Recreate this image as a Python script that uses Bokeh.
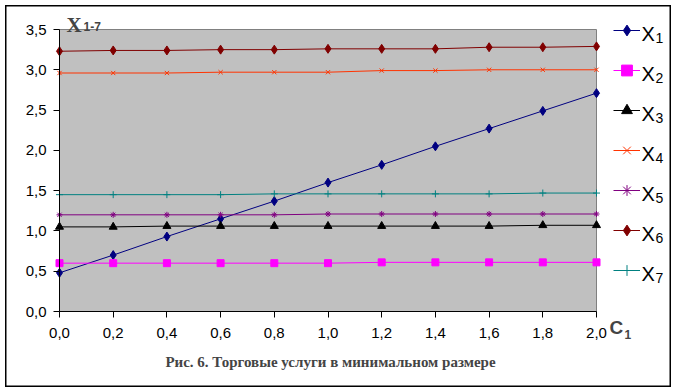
from bokeh.plotting import figure
from bokeh.models import (Range1d, FixedTicker, CustomJSTickFormatter, Legend,
                          LegendItem, Label)
from bokeh.embed import file_html
from bokeh.resources import INLINE

# ---- data ----
c1 = [0.0, 0.2, 0.4, 0.6, 0.8, 1.0, 1.2, 1.4, 1.6, 1.8, 2.0]
x1 = [0.48, 0.70, 0.93, 1.15, 1.37, 1.60, 1.82, 2.05, 2.27, 2.49, 2.71]
x2 = [0.60, 0.60, 0.60, 0.60, 0.60, 0.60, 0.61, 0.61, 0.61, 0.61, 0.61]
x3 = [1.05, 1.05, 1.06, 1.06, 1.06, 1.06, 1.06, 1.06, 1.06, 1.07, 1.07]
x4 = [2.96, 2.96, 2.96, 2.97, 2.97, 2.97, 2.99, 2.99, 3.00, 3.00, 3.00]
x5 = [1.20, 1.20, 1.20, 1.20, 1.20, 1.21, 1.21, 1.21, 1.21, 1.21, 1.21]
x6 = [3.23, 3.24, 3.24, 3.25, 3.25, 3.26, 3.26, 3.26, 3.28, 3.28, 3.29]
x7 = [1.45, 1.45, 1.45, 1.45, 1.46, 1.46, 1.46, 1.46, 1.46, 1.47, 1.47]

series_names = ["X", "X", "X", "X", "X", "X", "X"]
series_subs = ["1", "2", "3", "4", "5", "6", "7"]
y_ticks = [0.0, 0.5, 1.0, 1.5, 2.0, 2.5, 3.0, 3.5]
x_ticks = [0.0, 0.2, 0.4, 0.6, 0.8, 1.0, 1.2, 1.4, 1.6, 1.8, 2.0]
y_title, y_title_sub = "X", "1-7"
x_title, x_title_sub = "C", "1"
caption = "Рис. 6. Торговые услуги в минимальном размере"

series = [x1, x2, x3, x4, x5, x6, x7]
colors = ["#000080", "#FF00FF", "#000000", "#FF3300", "#800080", "#800000", "#008080"]
markers = ["diamond", "square", "triangle", "x", "asterisk", "diamond", "cross"]
sizes = [9, 7, 8, 6, 6, 9, 7]

# ---- layout (page pixels) ----
OFF = 5                                    # chart box starts at page (5, 5)
W, H = 666, 382                            # chart box size
PL, PR, PT, PB = 59, 596, 29, 311          # gray plot area (page pixels)
XMIN, XMAX, YMIN, YMAX = 0.0, 2.0, 0.0, 3.5
xpp = (XMAX - XMIN) / (PR - PL)
ypp = (YMAX - YMIN) / (PB - PT)
x_start, x_end = XMIN - (PL - OFF) * xpp, XMAX + (OFF + W - PR) * xpp
y_start, y_end = YMIN - (OFF + H - PB) * ypp, YMAX + (PT - OFF) * ypp


def dx(px):
    return x_start + (px - OFF) * xpp


def dy(py):
    return y_end - (py - OFF) * ypp


p = figure(width=W, height=H, output_backend="svg", toolbar_location=None,
           x_range=Range1d(x_start, x_end), y_range=Range1d(y_start, y_end),
           min_border=0, min_border_left=0, min_border_right=0,
           min_border_top=0, min_border_bottom=0)
p.styles = {"margin-left": f"{OFF}px", "margin-top": f"{OFF}px"}
p.outline_line_color = "black"
p.outline_line_width = 2
p.grid.visible = False

# gray plot area
p.quad(left=[XMIN], right=[XMAX], bottom=[YMIN], top=[YMAX],
       fill_color="#C0C0C0", line_color="#808080", line_width=1)

for ax, ticks, loc, bnds, stand in ((p.xaxis[0], x_ticks, YMIN, (XMIN, XMAX), 10),
                                    (p.yaxis[0], y_ticks, XMIN, (YMIN, YMAX), 7)):
    ax.fixed_location = loc
    ax.bounds = bnds
    ax.ticker = FixedTicker(ticks=ticks)
    ax.formatter = CustomJSTickFormatter(code="return tick.toFixed(1).replace('.', ',');")
    ax.major_tick_out = 6
    ax.major_tick_in = 0
    ax.minor_tick_out = 0
    ax.minor_tick_in = 0
    ax.axis_line_color = "black"
    ax.major_tick_line_color = "black"
    ax.major_label_text_font = "Liberation Sans"
    ax.major_label_text_font_size = "15px"
    ax.major_label_text_color = "black"
    ax.major_label_standoff = stand

items = []
for ys, col, mk, sz in zip(series, colors, markers, sizes):
    lr = p.line(c1, ys, line_color=col, line_width=1)
    sr = p.scatter(c1, ys, marker=mk, size=sz, fill_color=col, line_color=col, line_width=1)
    items.append(LegendItem(label=" ", renderers=[lr, sr]))

ROW0, ROWH = 30, 40
legend_bottom_page = ROW0 - ROWH // 2 + ROWH * len(items)
legend = Legend(items=items, location=(613 - OFF, OFF + H - legend_bottom_page),
                glyph_width=27, glyph_height=ROWH, label_height=20, spacing=0,
                padding=0, margin=0, label_standoff=2,
                border_line_color=None, background_fill_alpha=0,
                label_text_font="Liberation Sans", label_text_font_size="20px")
p.add_layout(legend, "center")

# legend texts: X with subscript
for k, (nm, sub) in enumerate(zip(series_names, series_subs)):
    base = ROW0 + ROWH * k
    p.add_layout(Label(x=dx(641), y=dy(base + 3), text=nm,
                       text_font="Liberation Sans", text_font_size="20px",
                       text_baseline="alphabetic", text_color="black"))
    p.add_layout(Label(x=dx(655), y=dy(base + 7), text=sub,
                       text_font="Liberation Sans", text_font_size="14px",
                       text_baseline="alphabetic", text_color="black"))

# axis titles
p.add_layout(Label(x=dx(66), y=dy(24), text=y_title, text_font="Liberation Serif",
                   text_font_style="bold", text_font_size="21px", text_baseline="alphabetic"))
p.add_layout(Label(x=dx(83), y=dy(26), text=y_title_sub, text_font="Liberation Sans",
                   text_font_style="bold", text_font_size="12px", text_baseline="alphabetic"))
p.add_layout(Label(x=dx(609), y=dy(327), text=x_title, text_font="Liberation Sans",
                   text_font_style="bold", text_font_size="19px", text_baseline="alphabetic"))
p.add_layout(Label(x=dx(624), y=dy(334), text=x_title_sub, text_font="Liberation Sans",
                   text_font_style="bold", text_font_size="12px", text_baseline="alphabetic"))

# caption
p.add_layout(Label(x=dx(330), y=dy(361), text=caption, text_font="Liberation Serif",
                   text_font_style="bold", text_font_size="15px", text_align="center",
                   text_baseline="middle"))

open("out.html", "w").write(file_html(p, INLINE))
